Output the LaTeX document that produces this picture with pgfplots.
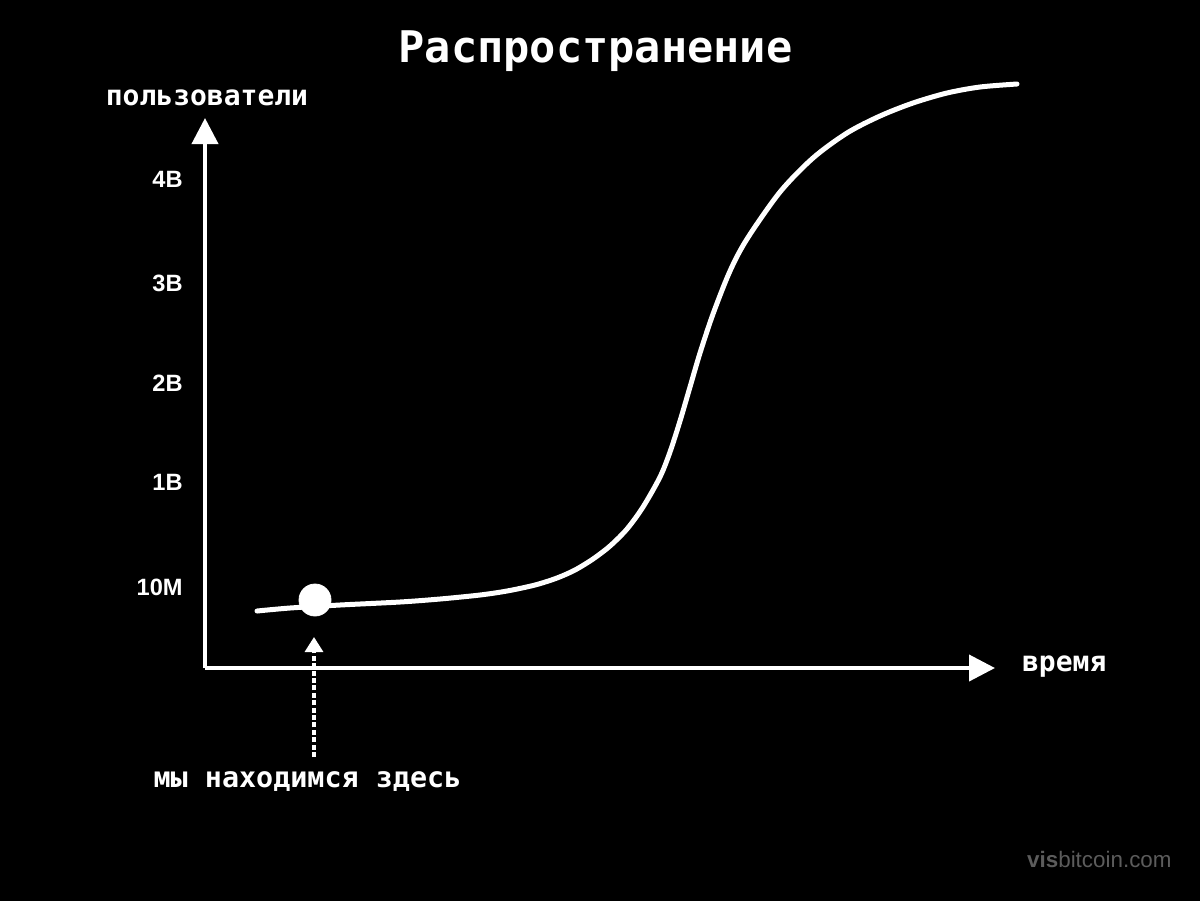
\documentclass[border=0pt]{standalone}
\usepackage{fontspec}
\usepackage{pgfplots}
\usepackage{pgfplotstable}
\pgfplotsset{compat=1.18}
\usetikzlibrary{arrows.meta}
\setmainfont{DejaVu Sans Mono}
\newfontfamily\tickfont{Liberation Sans}

% adoption curve, x and y (y = height above the time axis)
\pgfplotstableread{
x y
257 57
290 60
340 63
400 66
440 69
480 73
507 77
535 83
557 90
575 98
593 109
610 122
627 139
643 161
660 191
670 216
680 247
690 281
700 315
713 354
730 397
747 429
780 476
813 510
847 535
880 552
913 565
947 575
980 581
1017 584
}\curve

\begin{document}
\begin{tikzpicture}
\fill[black] (0,0) rectangle (600pt,-450.5pt);
\begin{axis}[
  at={(102.5pt,-334pt)}, anchor=south west,
  scale only axis, width=395pt, height=275pt,
  xmin=205, xmax=995, ymin=0, ymax=550,
  axis x line=bottom, axis y line=left,
  axis line style={white, line width=2pt, -{Triangle[length=13pt,width=13pt]}},
  xtick=\empty,
  ytick={81,186,285,385,489},
  yticklabels={10M,1B,2B,3B,4B},
  major tick length=0pt,
  yticklabel style={white, font=\tickfont\bfseries\fontsize{11.8}{13}\selectfont, anchor=east, inner sep=0pt, xshift=-11pt},
  clip=false,
  every axis y label/.style={at={(axis description cs:0.0025,1.0236)}, anchor=base, inner sep=0pt, white, font=\bfseries\fontsize{14}{16}\selectfont},
  every axis x label/.style={at={(axis description cs:1.0338,-0.0067)}, anchor=base west, inner sep=0pt, white, font=\bfseries\fontsize{14}{16}\selectfont},
  ylabel={пользователи},
  xlabel={время},
]
\addplot[white, line width=2.5pt, smooth, line cap=round] table[x=x,y=y] {\curve};
\addplot[only marks, mark=*, mark size=8pt, white] coordinates {(315,68)};
\draw[white, line width=1.6pt, dash pattern=on 2.5pt off 1.2pt, -{Triangle[length=7.5pt,width=9pt]}] (axis cs:314,-89) -- (axis cs:314,31);
\node[white, anchor=base, inner sep=0pt, font=\bfseries\fontsize{21.8}{24}\selectfont] at (axis cs:595.5,606) {Распространение};
\node[white, anchor=base, inner sep=0pt, font=\bfseries\fontsize{14.2}{16}\selectfont] at (axis cs:307.5,-119) {мы находимся здесь};
\node[anchor=base east, text=black!64!white, font=\tickfont\fontsize{11.2}{13}\selectfont, inner sep=0pt] at (axis cs:1172,-199) {{\bfseries vis}bitcoin.com};
\end{axis}
\pgfresetboundingbox
\useasboundingbox (0,0) rectangle (600pt,-450.5pt);
\end{tikzpicture}
\end{document}
